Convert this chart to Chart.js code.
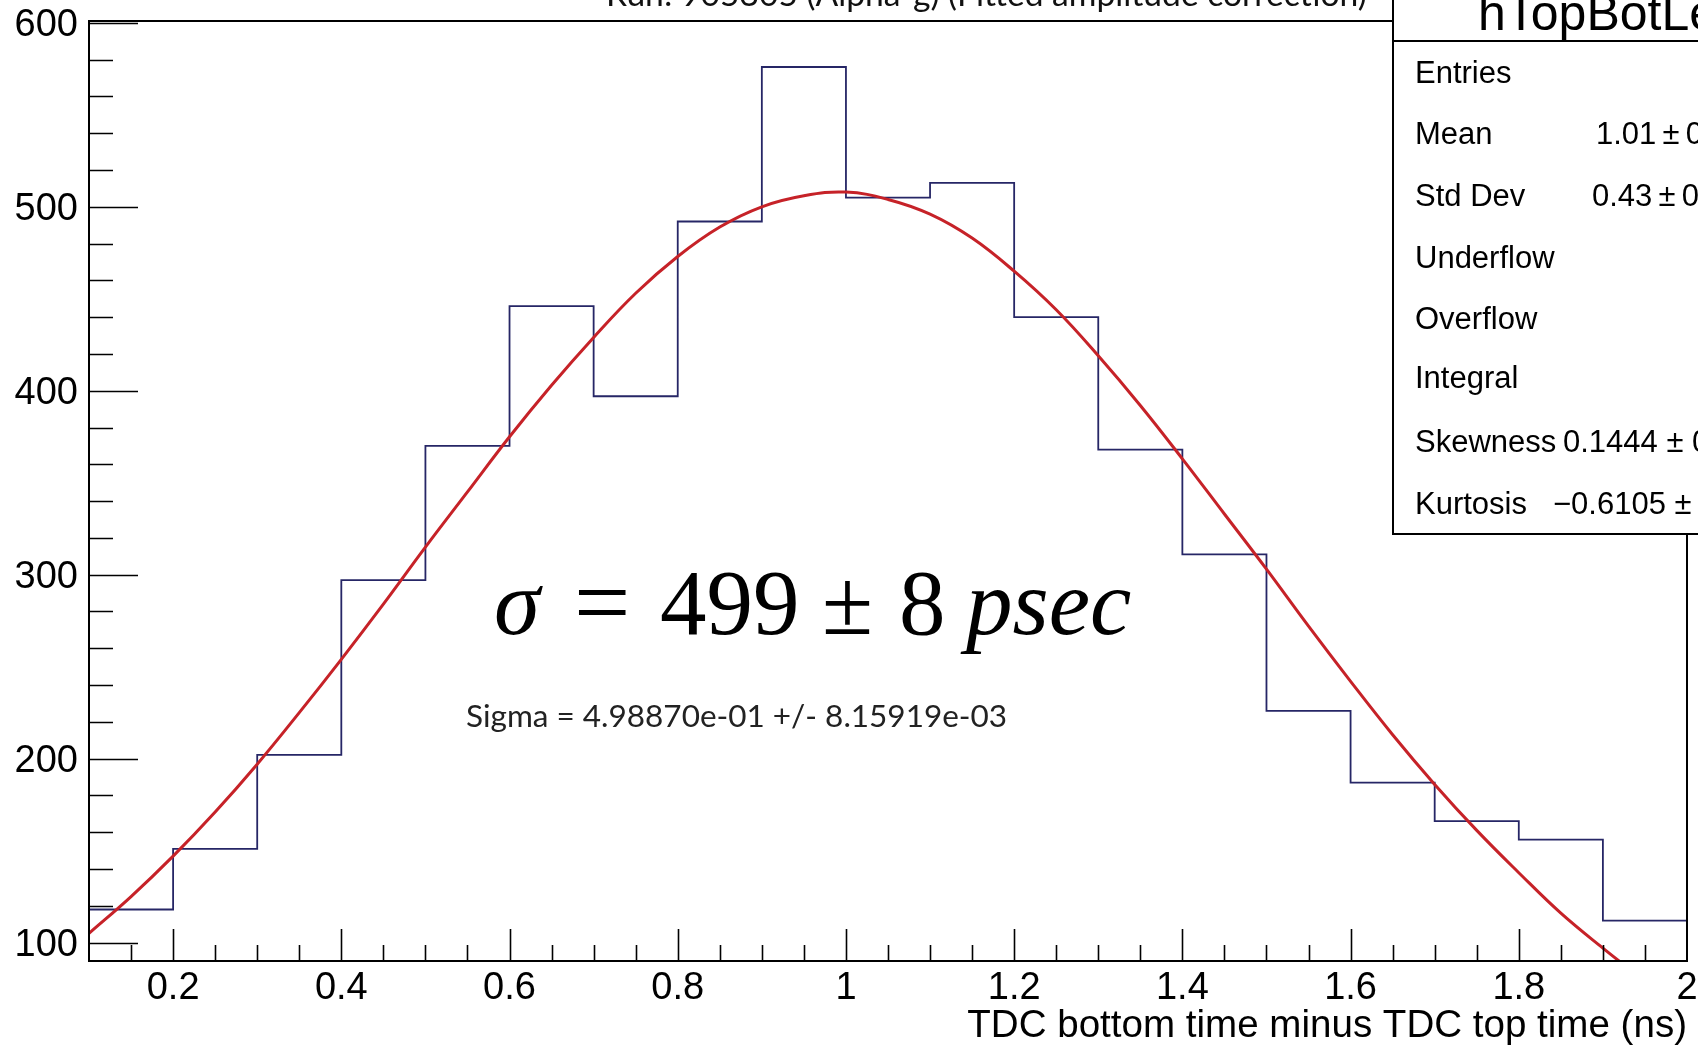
<!DOCTYPE html>
<html>
<head>
<meta charset="utf-8">
<script src="https://cdn.jsdelivr.net/npm/chart.js@4.4.1/dist/chart.umd.min.js"></script>
<style>
  html, body { margin: 0; padding: 0; background: #ffffff; overflow: hidden; }
  #wrap { position: relative; width: 1698px; height: 1045px; }
</style>
</head>
<body>
<div id="wrap"><canvas id="c" width="1698" height="1045"></canvas></div>
<script>
// ---- data ----
const binEdges = [0.1,0.2,0.3,0.4,0.5,0.6,0.7,0.8,0.9,1.0,1.1,1.2,1.3,1.4,1.5,1.6,1.7,1.8,1.9,2.0];
const binCounts = [118,151,202,297,370,446,397,492,576,505,513,440,368,311,226,187,166,156,112];
const fitX = [0.10,0.15,0.20,0.25,0.30,0.35,0.40,0.45,0.50,0.55,0.60,0.65,0.70,0.75,0.80,0.85,0.90,0.95,1.00,1.05,1.10,1.15,1.20,1.25,1.30,1.35,1.40,1.45,1.50,1.55,1.60,1.65,1.70,1.75,1.80,1.85,1.90,1.95];
const fitY = [105,125,147,171,197,225,254,284,315,345,375,403,429,453,473,489,500,506,508,504,496,483,465,444,419,392,363,333,303,272,242,213,186,161,138,116,97,79];
const xTickValues = [0.2,0.4,0.6,0.8,1.0,1.2,1.4,1.6,1.8,2.0];
const xTickLabels = ['0.2','0.4','0.6','0.8','1','1.2','1.4','1.6','1.8','2'];
const yTickValues = [100,200,300,400,500,600];
const yTickLabels = ['100','200','300','400','500','600'];
const titleText = 'Run: 905305 (Alpha-g) (Fitted amplitude correction)';
const xAxisTitle = 'TDC bottom time minus TDC top time (ns)';
const statsName = 'hTopBotLeft';
const statsLabels = ['Entries','Mean','Std Dev','Underflow','Overflow','Integral','Skewness','Kurtosis'];
const statsValues = ['', '1.01\u2009\u00b1\u20090.01', '0.43\u2009\u00b1\u20090.01', '', '', '', '0.1444 \u00b1 0.0311', '\u22120.6105 \u00b1 0.0622'];
const fitText = 'Sigma = 4.98870e-01 +/- 8.15919e-03';

// ---- build library data ----
const histPoints = binCounts.map((v, i) => ({x: binEdges[i], y: v}));
histPoints.push({x: binEdges[binEdges.length - 1], y: binCounts[binCounts.length - 1]});
const fitPoints = fitX.map((x, i) => ({x: x, y: fitY[i]}));

function fitSize(ctx, text, style, family, target, base) {
  ctx.font = style + ' ' + base + 'px ' + family;
  const w = ctx.measureText(text).width;
  return base * target / w;
}

const decor = {
  id: 'decor',
  afterDraw(chart) {
    const ctx = chart.ctx;
    const xs = chart.scales.x, ys = chart.scales.y;
    const ca = chart.chartArea;
    const L = ca.left, R = ca.right, T = ca.top, B = ca.bottom;
    const sans = '"Liberation Sans", Arial, sans-serif';
    ctx.save();
    ctx.strokeStyle = '#000';
    ctx.lineWidth = 2;
    // frame
    ctx.beginPath();
    ctx.moveTo(L, T); ctx.lineTo(R, T); ctx.lineTo(R, B); ctx.lineTo(L, B); ctx.closePath();
    ctx.stroke();
    // y ticks
    ctx.lineWidth = 1.6;
    ctx.beginPath();
    for (let v = 100; v <= 600.01; v += 20) {
      const py = Math.round(ys.getPixelForValue(v)) + 0.5;
      const major = Math.abs(v % 100) < 0.01;
      ctx.moveTo(L, py); ctx.lineTo(L + (major ? 49 : 24), py);
    }
    // x ticks
    for (let v = 0.15; v <= 1.951; v += 0.05) {
      const px = Math.round(xs.getPixelForValue(v)) + 0.5;
      const r = Math.round(v * 100);
      const major = r % 20 === 0;
      ctx.moveTo(px, B); ctx.lineTo(px, B - (major ? 32 : 16));
    }
    ctx.stroke();
    // tick labels
    ctx.fillStyle = '#000';
    ctx.font = '38px ' + sans;
    ctx.textAlign = 'right'; ctx.textBaseline = 'middle';
    yTickValues.forEach((v, i) => ctx.fillText(yTickLabels[i], L - 11, ys.getPixelForValue(v) + 3));
    ctx.textAlign = 'center'; ctx.textBaseline = 'middle';
    xTickValues.forEach((v, i) => ctx.fillText(xTickLabels[i], xs.getPixelForValue(v), 989));
    // x axis title
    let s = fitSize(ctx, xAxisTitle, '', sans, 720, 38);
    ctx.font = s.toFixed(2) + 'px ' + sans;
    ctx.textAlign = 'right'; ctx.textBaseline = 'alphabetic';
    ctx.fillText(xAxisTitle, R, 1037);
    // histogram title (cut at top)
    s = fitSize(ctx, titleText, '', 'Lato, "Open Sans", sans-serif', 761, 30);
    ctx.font = s.toFixed(2) + 'px Lato, "Open Sans", sans-serif';
    ctx.textAlign = 'left'; ctx.textBaseline = 'alphabetic';
    ctx.fillStyle = '#111';
    ctx.fillText(titleText, 606, 6);
    // stats box
    const bx = 1393, bb = 534;
    ctx.fillStyle = '#fff';
    ctx.fillRect(bx, -5, 1698 - bx + 10, bb + 5);
    ctx.strokeStyle = '#000'; ctx.lineWidth = 2;
    ctx.strokeRect(bx, -5, 1698 - bx + 20, bb + 5);
    ctx.beginPath(); ctx.moveTo(bx, 41); ctx.lineTo(1700, 41); ctx.stroke();
    ctx.fillStyle = '#000';
    ctx.font = '50px ' + sans;
    ctx.textAlign = 'left'; ctx.textBaseline = 'alphabetic';
    ctx.fillText(statsName, 1478, 30);
    ctx.font = '31px ' + sans;
    ctx.textBaseline = 'middle';
    const rowY = [74, 135, 197, 259, 320, 379, 443, 505];
    const valX = [0, 1596, 1592, 0, 0, 0, 1563, 1553];
    statsLabels.forEach((lab, i) => {
      ctx.fillText(lab, 1415, rowY[i]);
      if (statsValues[i]) ctx.fillText(statsValues[i], valX[i], rowY[i]);
    });
    // big sigma annotation
    const serif = '"Liberation Serif", "DejaVu Serif", serif';
    ctx.textBaseline = 'alphabetic'; ctx.textAlign = 'left';
    ctx.font = 'italic 93px ' + serif;
    ctx.fillText('\u03c3', 494, 634);
    ctx.font = '100px ' + serif;
    ctx.fillText('=', 574, 636);
    ctx.font = '93px ' + serif;
    ctx.fillText('499', 660, 634);
    ctx.fillText('\u00b1', 822, 634);
    ctx.fillText('8', 899, 634);
    ctx.font = 'italic 93px ' + serif;
    ctx.fillText('psec', 966, 634);
    // fit result text
    s = fitSize(ctx, fitText, '', 'Lato, "Open Sans", sans-serif', 541, 30);
    ctx.font = s.toFixed(2) + 'px Lato, "Open Sans", sans-serif';
    ctx.fillStyle = '#222';
    ctx.textBaseline = 'middle';
    ctx.fillText(fitText, 466, 717);
    ctx.restore();
  }
};

new Chart(document.getElementById('c'), {
  type: 'line',
  data: {
    datasets: [
      {
        label: 'fit',
        data: fitPoints,
        borderColor: '#c62228',
        borderWidth: 3,
        pointRadius: 0,
        tension: 0.4,
        fill: false,
        order: 0
      },
      {
        label: 'hTopBotLeft',
        data: histPoints,
        borderColor: '#262666',
        borderWidth: 1.8,
        pointRadius: 0,
        stepped: 'before',
        fill: false,
        order: 1
      }
    ]
  },
  options: {
    responsive: false,
    animation: false,
    devicePixelRatio: 1,
    layout: { padding: { left: 89, top: 21, right: 11, bottom: 84 } },
    plugins: { legend: { display: false }, tooltip: { enabled: false }, title: { display: false } },
    scales: {
      x: { type: 'linear', min: 0.1, max: 2.0, display: false },
      y: { type: 'linear', min: 90, max: 601, display: false }
    }
  },
  plugins: [decor]
});
</script>
</body>
</html>
